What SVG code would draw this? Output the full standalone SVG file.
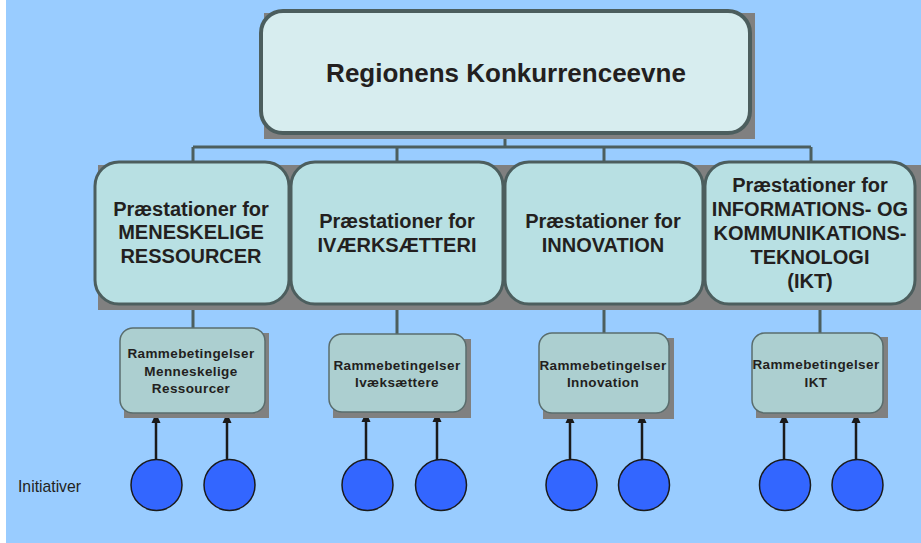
<svg xmlns="http://www.w3.org/2000/svg" width="921" height="543" viewBox="0 0 921 543">
<defs>
<style>
.shadow{fill:#808080}
.top{fill:#D7EDEF;stroke:#4C5E5E;stroke-width:4}
.l2{fill:#B8E0E3;stroke:#4C5E5E;stroke-width:3}
.l3{fill:#ACCFD0;stroke:#5A6D6D;stroke-width:1.5}
.conn{stroke:#4C5E5E;stroke-width:3;fill:none}
.arr{stroke:#1A1A1A;stroke-width:2.5;fill:none}
.ini{fill:#3366FF;stroke:#1A1A1A;stroke-width:1.5}
text{font-family:"Liberation Sans",Arial,sans-serif;fill:#231F20;text-anchor:middle}
.t1{font-size:26px;font-weight:bold}
.t2{font-size:20px;font-weight:bold}
.t3{font-size:13.5px;font-weight:bold;letter-spacing:0.4px}
.lbl{font-size:17px;text-anchor:start}
</style>
<marker id="ah" markerUnits="userSpaceOnUse" markerWidth="10" markerHeight="10" viewBox="0 0 10 10" refX="10" refY="5" orient="auto">
<path d="M0,0.5 L10,5 L0,9.5 Z" fill="#1A1A1A"/>
</marker>
</defs>
<rect x="0" y="0" width="921" height="543" fill="#FFFFFF"/>
<rect x="6" y="0" width="915" height="543" fill="#99CCFF"/>

<g id="connectors">
<path class="conn" d="M505,133 V147 M193,147 H811 M193,147 V163 M397,147 V163 M604,147 V163 M811,147 V163"/>
<path class="conn" d="M193,303 V329 M397,303 V335 M604,303 V334 M820,303 V334"/>
<path class="arr" marker-end="url(#ah)" d="M156,460 V413"/>
<path class="arr" marker-end="url(#ah)" d="M227,460 V413"/>
<path class="arr" marker-end="url(#ah)" d="M366,460 V412"/>
<path class="arr" marker-end="url(#ah)" d="M437,460 V412"/>
<path class="arr" marker-end="url(#ah)" d="M570,460 V413"/>
<path class="arr" marker-end="url(#ah)" d="M642,460 V413"/>
<path class="arr" marker-end="url(#ah)" d="M784,460 V413"/>
<path class="arr" marker-end="url(#ah)" d="M856,460 V413"/>
</g>

<g id="node-top">
<rect class="shadow" x="264" y="13" width="491" height="126"/>
<rect class="top" x="261" y="11" width="489" height="122" rx="22"/>
<text class="t1" x="506" y="82">Regionens Konkurrenceevne</text>
</g>

<g id="node-p1">
<rect class="shadow" x="98" y="165" width="197" height="145"/>
<rect class="l2" x="95" y="162" width="194" height="142" rx="24"/>
<text class="t2" x="191" y="216">Præstationer for</text>
<text class="t2" x="191" y="239">MENESKELIGE</text>
<text class="t2" x="191" y="263">RESSOURCER</text>
</g>
<g id="node-p2">
<rect class="shadow" x="294" y="165" width="215" height="145"/>
<rect class="l2" x="291" y="162" width="212" height="142" rx="24"/>
<text class="t2" x="397" y="228">Præstationer for</text>
<text class="t2" x="397" y="252">IVÆRKSÆTTERI</text>
</g>
<g id="node-p3">
<rect class="shadow" x="508" y="165" width="201" height="145"/>
<rect class="l2" x="505" y="162" width="198" height="142" rx="24"/>
<text class="t2" x="603" y="228">Præstationer for</text>
<text class="t2" x="603" y="252">INNOVATION</text>
</g>
<g id="node-p4">
<rect class="shadow" x="707" y="165" width="214" height="145"/>
<rect class="l2" x="705" y="162" width="210" height="142" rx="24"/>
<text class="t2" x="810" y="192">Præstationer for</text>
<text class="t2" x="810" y="216">INFORMATIONS- OG</text>
<text class="t2" x="810" y="240">KOMMUNIKATIONS-</text>
<text class="t2" x="810" y="264">TEKNOLOGI</text>
<text class="t2" x="810" y="288">(IKT)</text>
</g>

<g id="node-r1">
<rect class="shadow" x="124" y="333" width="145" height="85"/>
<rect class="l3" x="120" y="328" width="145" height="85" rx="13"/>
<text class="t3" x="191" y="358">Rammebetingelser</text>
<text class="t3" x="191" y="376">Menneskelige</text>
<text class="t3" x="191" y="393">Ressourcer</text>
</g>
<g id="node-r2">
<rect class="shadow" x="333" y="339" width="138" height="79"/>
<rect class="l3" x="329" y="334" width="137" height="78" rx="13"/>
<text class="t3" x="397" y="370">Rammebetingelser</text>
<text class="t3" x="397" y="387">Ivæksættere</text>
</g>
<g id="node-r3">
<rect class="shadow" x="543" y="338" width="131" height="81"/>
<rect class="l3" x="539" y="333" width="130" height="80" rx="13"/>
<text class="t3" x="603" y="370">Rammebetingelser</text>
<text class="t3" x="603" y="387">Innovation</text>
</g>
<g id="node-r4">
<rect class="shadow" x="756" y="337" width="132" height="81"/>
<rect class="l3" x="752" y="333" width="131" height="80" rx="13"/>
<text class="t3" x="816" y="369">Rammebetingelser</text>
<text class="t3" x="816" y="387">IKT</text>
</g>

<g id="label-initiativer">
<text class="lbl" x="18" y="492" textLength="63" lengthAdjust="spacingAndGlyphs">Initiativer</text>
</g>

<g id="initiatives">
<circle class="ini" cx="156.5" cy="485" r="25.5"/>
<circle class="ini" cx="229.5" cy="485" r="25.5"/>
<circle class="ini" cx="367.5" cy="485" r="25.5"/>
<circle class="ini" cx="441" cy="485" r="25.5"/>
<circle class="ini" cx="571.5" cy="485" r="25.5"/>
<circle class="ini" cx="644" cy="485" r="25.5"/>
<circle class="ini" cx="785" cy="485" r="25.5"/>
<circle class="ini" cx="857.5" cy="485" r="25.5"/>
</g>
</svg>
